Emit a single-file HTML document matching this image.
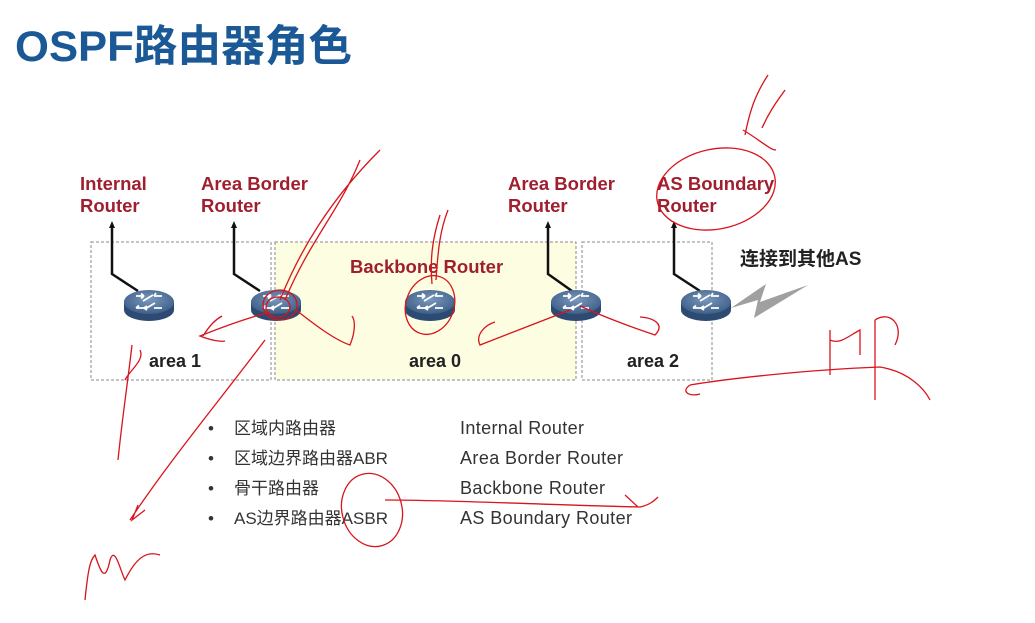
<!DOCTYPE html>
<html><head><meta charset="utf-8"><style>
body{margin:0;background:#fff;}
svg{display:block}
.t{font-family:"Liberation Sans","Noto Sans CJK SC",sans-serif;}
</style></head><body>
<svg width="1035" height="623" viewBox="0 0 1035 623" xmlns="http://www.w3.org/2000/svg">
<defs>
<radialGradient id="rg" cx="0.5" cy="0.4" r="0.6"><stop offset="0" stop-color="#7a98bd"/><stop offset="1" stop-color="#3e5f88"/></radialGradient>
<g id="router">
<path d="M-25 0 v8 a25 11 0 0 0 50 0 v-8z" fill="#2c4a72"/>
<ellipse cx="0" cy="0" rx="25" ry="12" fill="url(#rg)"/>
<g stroke="#fff" stroke-width="1.8" fill="none">
<path d="M-13 -6 l8 0 M-5 -6 l-3 -2.5 M-5 -6 l-3 2.5"/>
<path d="M13 -6 l-8 0 M5 -6 l2 -3"/>
<path d="M-13 6 l8 0 M-13 6 l3 -2.5"/>
<path d="M13 6 l-8 0 M-5 6 l3 -2 M-5 6 l3 2"/>
<path d="M-6 -1 l10 -6 M6 1 l-10 6"/>
</g>
</g>
</defs>
<text x="15" y="61" class="t" font-size="43" font-weight="bold" fill="#1a5896" textLength="337" lengthAdjust="spacingAndGlyphs">OSPF路由器角色</text>
<rect x="275" y="242" width="301" height="138" fill="#fdfde2" stroke="#888" stroke-dasharray="3,2"/>
<rect x="91" y="242" width="180" height="138" fill="none" stroke="#888" stroke-dasharray="3,2"/>
<rect x="582" y="242" width="130" height="138" fill="none" stroke="#888" stroke-dasharray="3,2"/>
<g class="t" font-size="18.5" font-weight="bold" fill="#a01f2e">
<text x="80" y="190">Internal</text><text x="80" y="212">Router</text>
<text x="201" y="190">Area Border</text><text x="201" y="212">Router</text>
<text x="508" y="190">Area Border</text><text x="508" y="212">Router</text>
<text x="657" y="190">AS Boundary</text><text x="657" y="212">Router</text>
<text x="350" y="273">Backbone Router</text>
</g>
<g class="t" font-size="18" font-weight="bold" fill="#222">
<text x="149" y="367">area 1</text>
<text x="409" y="367">area 0</text>
<text x="627" y="367">area 2</text>
<text x="740" y="265" font-size="19">连接到其他AS</text>
</g>
<g stroke="#111" stroke-width="2.5" fill="none">
<path d="M112 226 V274 L138 291"/>
<path d="M234 226 V274 L260 291"/>
<path d="M548 226 V274 L572 291"/>
<path d="M674 226 V274 L700 291"/>
</g>
<g fill="#111">
<path d="M112 221 l-3 7 h6z"/><path d="M234 221 l-3 7 h6z"/><path d="M548 221 l-3 7 h6z"/><path d="M674 221 l-3 7 h6z"/>
</g>
<use href="#router" x="149" y="302"/>
<use href="#router" x="276" y="302"/>
<use href="#router" x="430" y="302"/>
<use href="#router" x="576" y="302"/>
<use href="#router" x="706" y="302"/>
<path d="M731 308 L766 284 L760 302 L808 285 L754 318 L758 300z" fill="#a0a0a0"/>
<g class="t" font-size="17" fill="#333">
<text x="208" y="434">•</text><text x="234" y="434">区域内路由器</text>
<text x="208" y="464">•</text><text x="234" y="464">区域边界路由器ABR</text>
<text x="208" y="494">•</text><text x="234" y="494">骨干路由器</text>
<text x="208" y="524">•</text><text x="234" y="524">AS边界路由器ASBR</text>
</g>
<g class="t" font-size="18" fill="#333">
<text x="460" y="434" textLength="124">Internal Router</text>
<text x="460" y="464" textLength="163">Area Border Router</text>
<text x="460" y="494" textLength="145">Backbone Router</text>
<text x="460" y="524" textLength="172">AS Boundary Router</text>
</g>
<g stroke="#d8141c" stroke-width="1.3" fill="none">
<ellipse cx="716" cy="189" rx="60" ry="40" transform="rotate(-12 716 189)"/>
<path d="M745 135 C750 110 755 95 768 75 M762 128 C770 110 778 100 785 90 M743 130 C760 140 770 150 776 150"/>
<ellipse cx="280" cy="305" rx="17" ry="15"/>
<ellipse cx="278" cy="307" rx="12" ry="10"/>
<path d="M280 300 C300 250 330 200 380 150 M285 300 C310 240 340 210 360 160"/>
<path d="M270 312 C240 320 215 330 200 336 C210 340 220 342 225 341 M203 336 C210 325 215 320 222 316"/>
<path d="M296 310 C315 325 335 340 350 345 C356 330 355 320 352 316"/>
<path d="M265 340 C220 400 170 460 130 520 M138 505 L132 520 L145 510"/>
<path d="M132 345 C128 380 122 420 118 460 M140 350 C145 360 130 370 125 380"/>
<ellipse cx="430" cy="305" rx="24" ry="30" transform="rotate(20 430 305)"/>
<path d="M436 280 C438 250 440 230 448 210 M432 284 C430 260 432 240 440 215"/>
<path d="M570 310 C545 320 505 335 480 345 C475 335 485 325 495 322"/>
<path d="M580 306 C600 315 625 325 655 335 C665 325 655 318 640 317"/>
<path d="M690 385 C720 380 800 370 880 367 C910 372 925 390 930 400 M690 385 C680 392 690 397 700 394"/>
<path d="M830 330 V375 M830 340 C840 345 850 335 860 330 V355 M875 320 V400 M875 320 C890 310 905 325 895 345"/>
<ellipse cx="372" cy="510" rx="30" ry="37" transform="rotate(-15 372 510)"/>
<path d="M385 500 C450 500 550 505 640 507 C650 505 655 500 658 497 M625 495 L638 507"/>
<path d="M85 600 C88 570 90 560 95 555 C100 570 105 585 110 560 C115 545 120 570 125 580 C135 560 145 550 160 555"/>
</g>
</svg>
</body></html>
